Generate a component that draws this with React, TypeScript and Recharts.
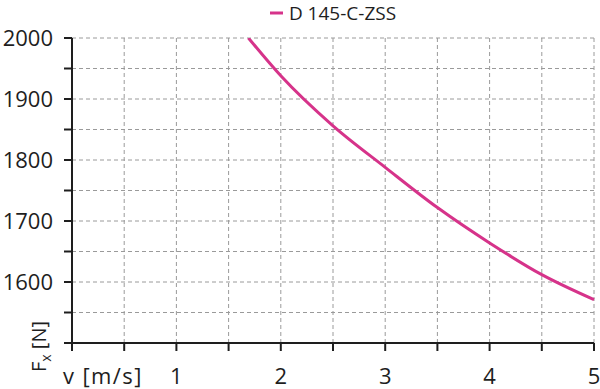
import React from "react";
import { LineChart, Line, XAxis, YAxis, CartesianGrid, Legend } from "recharts";

const seriesName = "D 145-C-ZSS";
const speeds = [1.69, 2, 2.5, 3, 3.5, 4, 4.5, 5];
const forces = [2000, 1938, 1856, 1788, 1722, 1664, 1612, 1571];
const xTicks = [0, 0.5, 1, 1.5, 2, 2.5, 3, 3.5, 4, 4.5, 5];
const yTicks = [1500, 1550, 1600, 1650, 1700, 1750, 1800, 1850, 1900, 1950, 2000];
const xAxisTitle = "v [m/s]";

const data = speeds.map((v, i) => ({ v, f: forces[i] }));

const FONT = "'Open Sans', sans-serif";
const COLOR = "#d6338a";
const DARK = "#1e1e1e";

const XTick = (props: any) => {
  const { x, y, payload } = props;
  const val = payload.value;
  if (val === 0) {
    return (
      <text x={x - 9} y={y + 31} textAnchor="start" fontSize={22} letterSpacing={1.4} fontFamily={FONT} fill={DARK}>
        {xAxisTitle}
      </text>
    );
  }
  if (Number.isInteger(val)) {
    return (
      <text x={x} y={y + 31} textAnchor="middle" fontSize={22} fontFamily={FONT} fill={DARK}>
        {String(val)}
      </text>
    );
  }
  return null;
};

const YTick = (props: any) => {
  const { x, y, payload } = props;
  const val = payload.value;
  if (val % 100 !== 0 || val === 1500) return null;
  return (
    <text x={x - 3} y={y + 8} textAnchor="end" fontSize={22} fontFamily={FONT} fill={DARK}>
      {String(val)}
    </text>
  );
};

const YLabel = () => (
  <text transform="rotate(-90)" x={-372} y={46} fontSize={20} fontFamily={FONT} fill={DARK}>
    F
    <tspan fontSize={14} dy={5}>x</tspan>
    <tspan fontSize={20} dy={-5}> [N]</tspan>
  </text>
);

const LegendContent = () => (
  <div style={{ display: "flex", alignItems: "center", justifyContent: "center", height: 26, paddingLeft: 66 }}>
    <svg width={19} height={10}>
      <line x1={0} y1={5} x2={13} y2={5} stroke={COLOR} strokeWidth={3} />
    </svg>
    <span style={{ fontFamily: FONT, fontSize: 19, color: DARK, lineHeight: "26px" }}>{seriesName}</span>
  </div>
);

export default function App() {
  return (
    <div style={{ position: "absolute", left: 0, top: 0 }}>
      <LineChart width={600} height={389} data={data} margin={{ top: 12, right: 6, bottom: 0, left: 0 }}>
        <Legend verticalAlign="top" content={<LegendContent />} wrapperStyle={{ top: 0, left: 0, width: 600, height: 26 }} />
        <CartesianGrid stroke="#9a9a9a" strokeDasharray="4 3" strokeWidth={1} />
        <XAxis
          dataKey="v"
          type="number"
          domain={[0, 5]}
          ticks={xTicks}
          interval={0}
          height={46}
          tickSize={8}
          tick={<XTick />}
          axisLine={{ stroke: DARK, strokeWidth: 2 }}
          tickLine={{ stroke: DARK, strokeWidth: 2 }}
        />
        <YAxis
          type="number"
          domain={[1500, 2000]}
          ticks={yTicks}
          interval={0}
          width={72}
          tickSize={8}
          tickMargin={8}
          tick={<YTick />}
          axisLine={{ stroke: DARK, strokeWidth: 2 }}
          tickLine={{ stroke: DARK, strokeWidth: 2 }}
          allowDataOverflow
          label={{ content: () => <YLabel /> }}
        />
        <Line
          type="monotone"
          dataKey="f"
          name={seriesName}
          stroke={COLOR}
          strokeWidth={3}
          dot={false}
          isAnimationActive={false}
        />
      </LineChart>
    </div>
  );
}
